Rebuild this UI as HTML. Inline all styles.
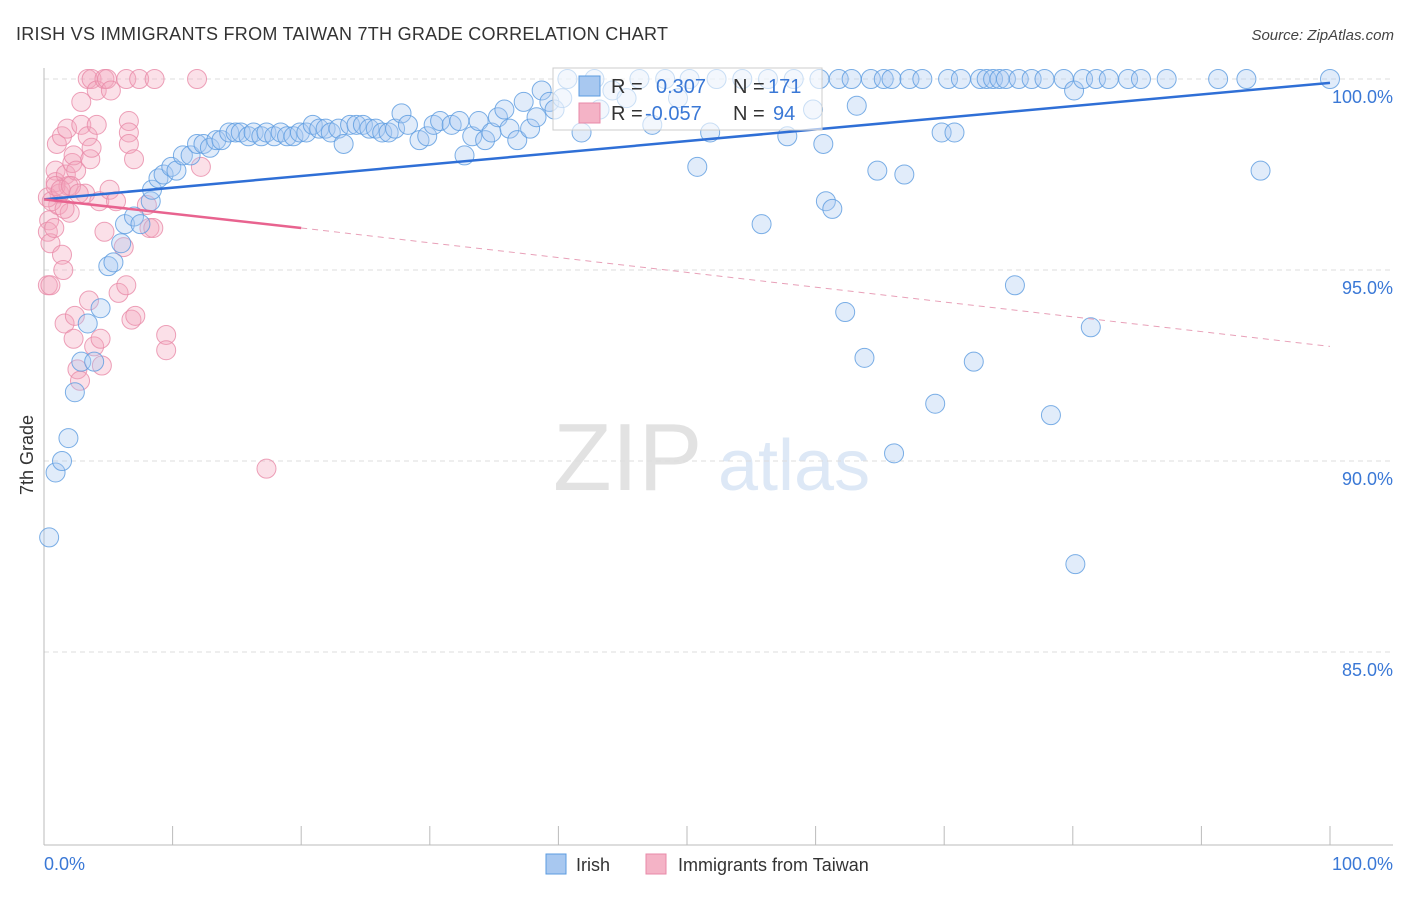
<!DOCTYPE html>
<html><head><meta charset="utf-8"><style>
body{margin:0;background:#fff;font-family:"Liberation Sans",sans-serif}
svg text{font-family:"Liberation Sans",sans-serif}
</style></head><body>
<svg id="chart" width="1406" height="892" xmlns="http://www.w3.org/2000/svg">
<text x="16" y="40" font-size="18" fill="#333" textLength="652">IRISH VS IMMIGRANTS FROM TAIWAN 7TH GRADE CORRELATION CHART</text>
<text x="1394" y="40" font-size="15" fill="#444" text-anchor="end" font-style="italic">Source: ZipAtlas.com</text>
<g>
<text x="553" y="490" font-size="96" fill="#e2e2e2" font-family="Liberation Serif">ZIP</text>
<text x="718" y="490" font-size="72" fill="#dde8f6">atlas</text>
</g>
<g id="grid"></g><g id="axes"></g><g id="pts"></g><g id="lines"></g>
<g>
<rect x="553" y="68" width="269" height="62" fill="#fff" fill-opacity="0.6" stroke="#ccc"/>
<rect x="579" y="76" width="21" height="20" fill="#a8c8f0" stroke="#5b9be0"/>
<rect x="579" y="103" width="21" height="20" fill="#f4b3c6" stroke="#e88aa8"/>
<text x="611" y="93" font-size="20" fill="#333">R = </text><text x="656" y="93" font-size="20" fill="#3a78d6">0.307</text>
<text x="733" y="93" font-size="20" fill="#333">N = </text><text x="768" y="93" font-size="20" fill="#3a78d6">171</text>
<text x="611" y="120" font-size="20" fill="#333">R = </text><text x="645" y="120" font-size="20" fill="#3a78d6">-0.057</text>
<text x="733" y="120" font-size="20" fill="#333">N = </text><text x="773" y="120" font-size="20" fill="#3a78d6">94</text>
</g>
<g>
<rect x="546" y="854" width="20" height="20" fill="#a8c8f0" stroke="#5b9be0"/>
<text x="576" y="871" font-size="18" fill="#333">Irish</text>
<rect x="646" y="854" width="20" height="20" fill="#f4b3c6" stroke="#e88aa8"/>
<text x="678" y="871" font-size="18" fill="#333">Immigrants from Taiwan</text>
</g>
<text transform="translate(33,455) rotate(-90)" font-size="18" fill="#333" text-anchor="middle">7th Grade</text>
</svg>
<script>
const yTicks=[100,95,90,85];
const yTickLabels=["100.0%","95.0%","90.0%","85.0%"];
const xTicks=[0,10,20,30,40,50,60,70,80,90,100];
const blueX=[0.4,0.9,1.4,1.9,2.4,2.9,3.9,3.4,4.4,5.0,5.4,6.0,6.3,7.0,7.5,8.3,8.4,8.9,9.3,9.9,10.3,10.8,11.4,11.9,12.4,12.9,13.4,13.8,14.4,14.9,15.3,15.9,16.3,16.9,17.3,17.9,18.4,18.9,19.4,19.9,20.4,20.9,21.4,21.9,22.3,22.9,23.3,23.8,24.3,24.8,25.3,25.8,26.3,26.8,27.3,27.8,28.3,29.2,29.8,30.3,30.8,31.7,32.3,32.7,33.3,33.8,34.3,34.8,35.3,35.8,36.2,36.8,37.3,37.8,38.3,38.7,39.3,39.7,40.3,40.7,41.8,42.8,43.2,44.2,45.3,46.3,47.3,48.3,49.3,50.2,50.8,51.8,52.3,54.3,55.8,56.3,57.8,58.3,59.8,60.3,60.6,60.8,61.3,61.8,62.3,62.8,63.2,63.8,64.3,64.8,65.3,65.9,66.1,66.9,67.3,68.3,69.3,69.8,70.3,70.8,71.3,72.3,72.8,73.3,73.8,74.3,74.8,75.5,75.8,76.8,77.8,78.3,79.3,80.1,80.2,80.8,81.4,81.8,82.8,84.3,85.3,87.3,91.3,93.5,94.6,100];
const blueY=[88.0,89.7,90.0,90.6,91.8,92.6,92.6,93.6,94.0,95.1,95.2,95.7,96.2,96.4,96.2,96.8,97.1,97.4,97.5,97.7,97.6,98.0,98.0,98.3,98.3,98.2,98.4,98.4,98.6,98.6,98.6,98.5,98.6,98.5,98.6,98.5,98.6,98.5,98.5,98.6,98.6,98.8,98.7,98.7,98.6,98.7,98.3,98.8,98.8,98.8,98.7,98.7,98.6,98.6,98.7,99.1,98.8,98.4,98.5,98.8,98.9,98.8,98.9,98.0,98.5,98.9,98.4,98.6,99.0,99.2,98.7,98.4,99.4,98.7,99.0,99.7,99.4,99.2,99.5,100,98.6,100,99.2,99.7,99.5,100,98.8,100,99.5,100,97.7,98.6,100,100,96.2,100,98.5,100,99.2,100,98.3,96.8,96.6,100,93.9,100,99.3,92.7,100,97.6,100,100,90.2,97.5,100,100,91.5,98.6,100,98.6,100,92.6,100,100,100,100,100,94.6,100,100,100,91.2,100,99.7,87.3,100,93.5,100,100,100,100,100,100,100,97.6,100];
const pinkX=[0.4,0.3,0.5,0.3,0.5,0.9,0.9,1.0,1.1,1.2,1.4,1.4,1.5,1.6,1.7,1.8,1.9,2.0,2.2,2.3,2.3,2.4,2.5,2.6,2.8,2.9,2.9,3.2,3.4,3.4,3.5,3.6,3.7,3.7,3.9,4.1,4.1,4.3,4.4,4.5,4.7,4.7,4.9,5.1,5.2,5.6,5.8,6.2,6.4,6.4,6.6,6.6,6.6,6.8,7.0,7.4,7.1,8.0,8.2,8.6,8.5,9.5,9.5,11.9,12.2,17.3,0.3,0.6,0.9,0.8,1.3,2.1,1.6,2.7];
const pinkY=[96.3,96.0,95.7,94.6,94.6,97.6,97.3,98.3,96.7,97.0,98.5,95.4,95.0,93.6,97.5,98.7,97.2,96.5,97.8,98.0,93.2,93.8,97.6,92.4,92.1,99.4,98.8,97.0,100,98.5,94.2,97.9,98.2,100,93.0,98.8,99.7,96.8,93.2,92.5,100,96.0,100,97.1,99.7,96.8,94.4,95.6,94.6,100,98.9,98.6,98.3,93.7,97.9,100,93.8,96.7,96.1,100,96.1,93.3,92.9,100,97.7,89.8,96.9,96.8,97.2,96.1,97.1,97.2,96.6,97.0];
const blueTrend=[[0,96.85],[100,99.9]];
const pinkTrendSolid=[[0,96.85],[20,96.1]];
const pinkTrendDash=[[20,96.1],[100,93.0]];
const X=v=>44+v*12.86, Y=v=>79+(100-v)*38.2;
const NS="http://www.w3.org/2000/svg";
function mk(p,t,a){const e=document.createElementNS(NS,t);for(const k in a)e.setAttribute(k,a[k]);document.getElementById(p).appendChild(e);return e;}
yTicks.forEach((t,i)=>{
 const g=mk('grid','line',{x1:44,x2:1393,y1:Y(t),y2:Y(t),stroke:'#ddd','stroke-dasharray':'5,4'});
 
 
 const l=mk('axes','text',{x:1393,y:Y(t)+24,'font-size':18,fill:'#3a78d6','text-anchor':'end'});
 l.textContent=yTickLabels[i];
 
 
});
const ax=mk('axes','line',{x1:44,x2:44,y1:68,y2:845,stroke:'#bbb'});


const bx=mk('axes','line',{x1:44,x2:1393,y1:845,y2:845,stroke:'#bbb'});


xTicks.forEach(t=>{const k=mk('axes','line',{x1:X(t),x2:X(t),y1:826,y2:845,stroke:'#bbb'});
 
 });
const x0=mk('axes','text',{x:44,y:870,'font-size':18,fill:'#3a78d6'});x0.textContent='0.0%';


const x1=mk('axes','text',{x:1393,y:870,'font-size':18,fill:'#3a78d6','text-anchor':'end'});x1.textContent='100.0%';


pinkX.forEach((v,i)=>{const c=mk('pts','circle',{cx:X(v),cy:Y(pinkY[i]),r:9.5,fill:'#f4a7bd','fill-opacity':0.35,stroke:'#e88aa8','stroke-opacity':0.8});
 
 });
blueX.forEach((v,i)=>{const c=mk('pts','circle',{cx:X(v),cy:Y(blueY[i]),r:9.5,fill:'#a8c8f0','fill-opacity':0.35,stroke:'#5b9be0','stroke-opacity':0.8});
 
 });
function tl(d,col,w,dash,name){const a={x1:X(d[0][0]),y1:Y(d[0][1]),x2:X(d[1][0]),y2:Y(d[1][1]),stroke:col,'stroke-width':w};if(dash)a['stroke-dasharray']=dash;const l=mk('lines','line',a);
 
 }
tl(blueTrend,'#2f6fd6',2.5,null,'irish-trend-line');
tl(pinkTrendSolid,'#e8638f',2.5,null,'taiwan-trend-line');
tl(pinkTrendDash,'#e8a0b8',1,'6,5','taiwan-trend-extension');
</script>
</body></html>
